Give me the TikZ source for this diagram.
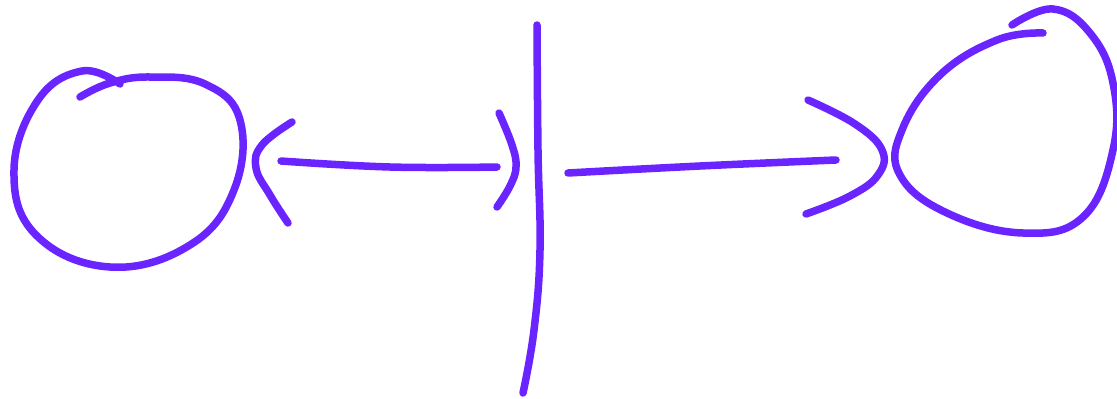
\documentclass[tikz,border=0pt]{standalone}
\usepackage{tikz}
\definecolor{ink}{RGB}{106,36,255}

\begin{document}
\begin{tikzpicture}[
  x=1pt, y=-1pt,
  stroke/.style={draw=ink,line width=7.5pt,line cap=round,line join=round},
  curvy/.style={smooth,tension=0.7}
]
\useasboundingbox (0,0) rectangle (1117,399);

% ---- left blob ----
\draw[stroke] plot[curvy] coordinates {(120,84) (82,71) (38,100) (14,170) (36,235)
  (110,267) (190,245) (234,190) (240,120) (205,84) (150,77) (110,83) (80,97)};

% ---- left bracket and line ----
\draw[stroke] plot[curvy] coordinates {(292,122) (262,145) (256,168) (270,195) (288,223)};
\draw[stroke] plot[curvy] coordinates {(281,161) (390,167) (497,167)};

% ---- bracket at the bar ----
\draw[stroke] plot[curvy] coordinates {(499,113) (512,145) (516,167) (510,186) (497,207)};

% ---- bar ----
\draw[stroke] plot[curvy] coordinates {(537,25) (538,150) (540,250) (534,330) (523,393)};

% ---- right line and bracket ----
\draw[stroke] plot[curvy] coordinates {(568,173) (700,166) (836,160)};
\draw[stroke] plot[curvy] coordinates {(808,100) (855,124) (882,150) (878,175) (850,196) (806,214)};

% ---- right blob ----
\draw[stroke] plot[curvy] coordinates {(1043,33) (997,40) (940,75) (902,130) (900,175)
  (947,213) (1023,233) (1083,217) (1113,150) (1113,83) (1090,33) (1053,9) (1012,25)};

\end{tikzpicture}
\end{document}
